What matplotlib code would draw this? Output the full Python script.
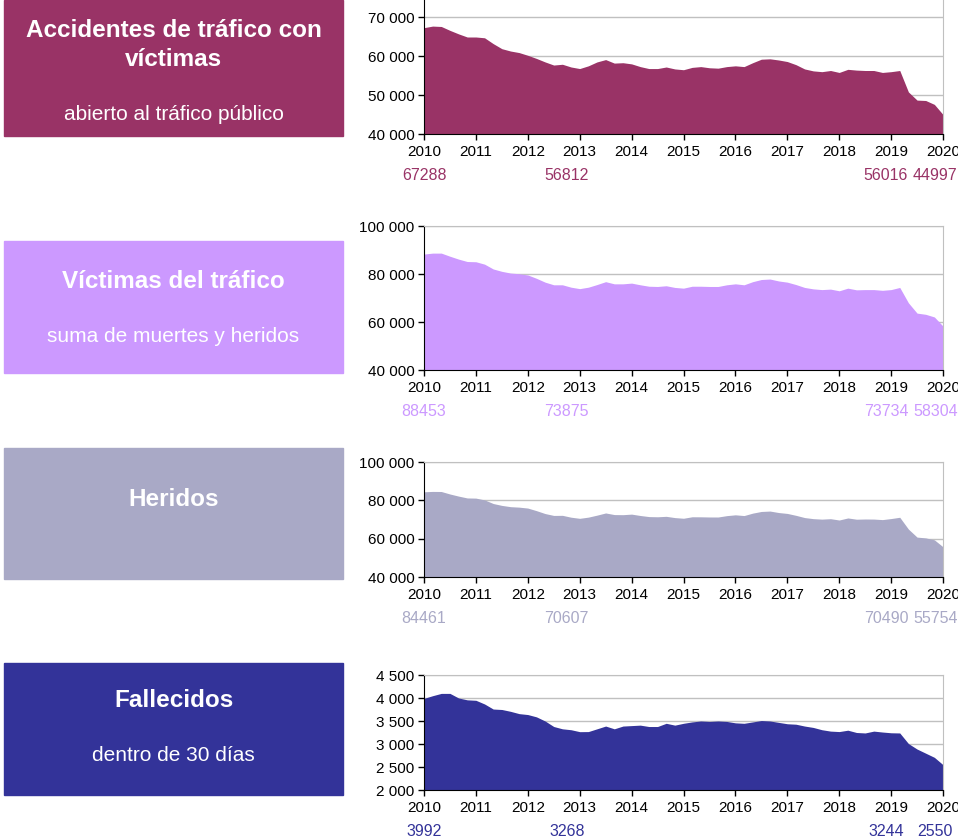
import numpy as np
import matplotlib.pyplot as plt
from matplotlib.patches import Rectangle
from matplotlib.ticker import FuncFormatter

plt.rcParams['font.family'] = ['Liberation Sans', 'DejaVu Sans']

# bi-monthly points, 2010.0 .. 2020.0
years = 2010 + np.arange(61) / 6.0

accidentes = [67300, 67700, 67600, 66600, 65700, 64900,
              64900, 64700, 63200, 61900, 61300, 60900,
              60200, 59400, 58500, 57700, 57900, 57200,
              56800, 57500, 58500, 59100, 58200, 58300,
              58000, 57300, 56800, 56800, 57200, 56700,
              56500, 57100, 57300, 57000, 56900, 57300,
              57500, 57300, 58300, 59200, 59300, 59000,
              58600, 57800, 56700, 56200, 56000, 56300,
              55800, 56600, 56400, 56300, 56300, 55800,
              56000, 56300, 50800, 48700, 48600, 47600,
              45000]

victimas = [88300, 88700, 88700, 87400, 86200, 85200,
            85100, 84100, 82100, 81100, 80400, 80100,
            79600, 78200, 76600, 75500, 75500, 74500,
            73900, 74500, 75600, 76800, 75900, 75900,
            76200, 75500, 74900, 74800, 75100, 74400,
            74100, 74900, 74900, 74800, 74800, 75500,
            75900, 75500, 76800, 77700, 77900, 77100,
            76600, 75600, 74400, 73800, 73500, 73700,
            73000, 74100, 73400, 73500, 73500, 73200,
            73500, 74400, 68000, 63700, 63200, 62100,
            58300]

heridos = [84460, 84650, 84600, 83300, 82200, 81240,
           81150, 80230, 78340, 77350, 76690, 76440,
           75960, 74610, 73100, 72120, 72170, 71190,
           70610, 71230, 72270, 73410, 72570, 72510,
           72800, 72090, 71520, 71420, 71650, 70990,
           70650, 71420, 71400, 71310, 71300, 72010,
           72440, 72050, 73320, 74190, 74400, 73630,
           73160, 72170, 71010, 70440, 70190, 70420,
           69730, 70800, 70150, 70260, 70220, 69940,
           70490, 71160, 64990, 60810, 60400, 59390,
           55750]

fallecidos = [3992, 4050, 4100, 4100, 4000, 3960,
              3950, 3870, 3760, 3750, 3710, 3660,
              3640, 3590, 3500, 3380, 3330, 3310,
              3268, 3270, 3330, 3390, 3330, 3390,
              3400, 3410, 3380, 3380, 3450, 3410,
              3450, 3480, 3500, 3490, 3500, 3490,
              3460, 3450, 3480, 3510, 3500, 3470,
              3440, 3430, 3390, 3360, 3310, 3280,
              3270, 3300, 3250, 3240, 3280, 3260,
              3244, 3240, 3010, 2890, 2800, 2710,
              2550]

titles = ['Accidentes de tráfico con\nvíctimas', 'Víctimas del tráfico',
          'Heridos', 'Fallecidos']
subtitles = ['abierto al tráfico público', 'suma de muertes y heridos',
             '', 'dentro de 30 días']
colors = ['#993366', '#CC99FF', '#A9A9C6', '#333399']
series = [accidentes, victimas, heridos, fallecidos]
ylims = [(40000, 74400), (40000, 100000), (40000, 100000), (2000, 4500)]
yticks = [[40000, 50000, 60000, 70000], [40000, 60000, 80000, 100000],
          [40000, 60000, 80000, 100000], [2000, 2500, 3000, 3500, 4000, 4500]]
# key values shown under each chart
key_years = [2010, 2012.75, 2018.9, 2019.85]
key_values = [[67288, 56812, 56016, 44997],
              [88453, 73875, 73734, 58304],
              [84461, 70607, 70490, 55754],
              [3992, 3268, 3244, 2550]]

W, H = 958, 838
fig = plt.figure(figsize=(W / 100, H / 100), dpi=100)

# panel geometry in pixels
boxes = [(0, 136), (241, 373), (448, 579), (663, 795)]
axes_px = [(0, 134), (226, 370), (462, 577), (675, 790)]
title_y = [45, 281, 500, 700]
sub_y = [115, 336, None, 755]

ax_left, ax_right = 424, 943

def sep(v, pos):
    return '{:,}'.format(int(v)).replace(',', ' ')

for i in range(4):
    bt, bb = boxes[i]
    fig.patches.append(Rectangle((4 / W, 1 - bb / H), 339 / W, (bb - bt) / H,
                                 transform=fig.transFigure, color=colors[i], zorder=0))
    cx = (4 + 343) / 2 / W
    fig.text(cx, 1 - title_y[i] / H, titles[i], ha='center', va='center', color='white',
             fontsize=17.5, fontweight='bold', linespacing=1.3)
    if sub_y[i] is not None:
        fig.text(cx, 1 - sub_y[i] / H, subtitles[i], ha='center', va='center',
                 color='white', fontsize=15)

    at, ab = axes_px[i]
    ax = fig.add_axes([ax_left / W, 1 - ab / H, (ax_right - ax_left) / W, (ab - at) / H])
    ax.fill_between(years, series[i], ylims[i][0], color=colors[i], linewidth=0, zorder=2)
    ax.set_xlim(2010, 2020)
    ax.set_ylim(*ylims[i])
    ax.set_yticks(yticks[i])
    ax.yaxis.set_major_formatter(FuncFormatter(sep))
    ax.set_xticks(range(2010, 2021))
    ax.grid(axis='y', color='#C0C0C0', linewidth=1, zorder=1)
    ax.set_axisbelow(True)
    for s in ['top', 'right']:
        ax.spines[s].set_color('#C0C0C0')
    if i == 0:
        ax.spines['top'].set_visible(False)
    ax.spines['left'].set_color('black')
    ax.spines['bottom'].set_color('black')
    ax.tick_params(axis='both', labelsize=11, length=4, width=1, pad=3)
    ax.tick_params(axis='x', pad=4)
    for x, v in zip(key_years, key_values[i]):
        ax.annotate(str(v), xy=(x, ylims[i][0]), xycoords='data',
                    xytext=(0, -30), textcoords='offset points',
                    ha='center', va='center', color=colors[i], fontsize=11.5,
                    annotation_clip=False)

fig.savefig('out.png', dpi=100)
